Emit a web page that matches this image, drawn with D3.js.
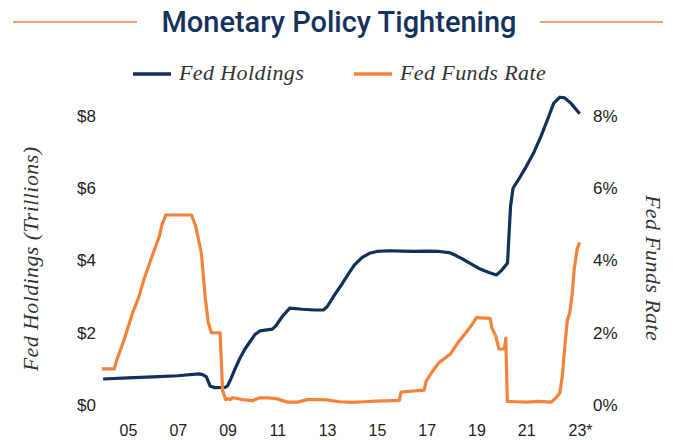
<!DOCTYPE html>
<html>
<head>
<meta charset="utf-8">
<script src="https://cdn.jsdelivr.net/npm/d3@7"></script>
<style>
  body { margin: 0; background: #fff; }
  .tick text { font-family: "Liberation Sans", Arial, sans-serif; font-size: 17px; fill: #222; }
  .x-axis .tick text { font-size: 16px; }
  .serif { font-family: "Liberation Serif", "DejaVu Serif", serif; font-style: italic; fill: #333; letter-spacing: 0.4px; }
</style>
</head>
<body>
<svg></svg>
<script>
// fed holdings (trillions $) by decimal year
const holdingsYears = [2004.0, 2005.0, 2006.0, 2007.0, 2007.85, 2008.0, 2008.15, 2008.3, 2008.5, 2008.9, 2009.0,
  2009.15, 2009.3, 2009.5, 2009.7, 2009.9, 2010.1, 2010.3, 2010.8, 2010.95, 2011.2, 2011.5, 2012.0, 2012.5, 2012.85,
  2013.0, 2013.3, 2013.6, 2013.85, 2014.1, 2014.4, 2014.7, 2015.0, 2015.5, 2016.0, 2016.5, 2017.0, 2017.5, 2017.9,
  2018.2, 2018.5, 2018.8, 2019.1, 2019.5, 2019.8, 2020.0, 2020.25, 2020.3, 2020.37, 2020.47, 2020.7, 2021.0, 2021.3,
  2021.6, 2021.9, 2022.1, 2022.35, 2022.55, 2022.8, 2023.15];
const holdingsValues = [0.72, 0.75, 0.78, 0.81, 0.86, 0.84, 0.78, 0.52, 0.48, 0.49, 0.53,
  0.75, 1.0, 1.3, 1.55, 1.75, 1.95, 2.05, 2.1, 2.2, 2.45, 2.68, 2.65, 2.63, 2.63,
  2.72, 3.05, 3.35, 3.62, 3.88, 4.08, 4.2, 4.25, 4.27, 4.26, 4.25, 4.26, 4.25, 4.22,
  4.13, 4.02, 3.9, 3.78, 3.67, 3.6, 3.72, 3.93, 4.6, 5.5, 6.0, 6.25, 6.6, 6.98,
  7.45, 7.98, 8.35, 8.52, 8.5, 8.35, 8.06];

// fed funds rate (%)
const rateYears = [2003.95, 2004.45, 2004.55, 2004.84, 2005.16, 2005.44, 2005.65, 2005.93, 2006.25, 2006.37, 2006.52,
  2007.55, 2007.72, 2007.95, 2008.1, 2008.22, 2008.35, 2008.7, 2008.8, 2008.92, 2009.0, 2009.1, 2009.2, 2009.4,
  2009.6, 2010.0, 2010.3, 2010.6, 2011.0, 2011.4, 2011.8, 2012.2, 2012.6, 2013.0, 2013.5, 2014.0, 2014.5, 2015.0,
  2015.9, 2015.97, 2016.9, 2016.98, 2017.2, 2017.48, 2017.95, 2018.22, 2018.47, 2018.8, 2019.0, 2019.55, 2019.62,
  2019.78, 2019.9, 2020.12, 2020.18, 2020.24, 2020.6, 2021.0, 2021.5, 2022.0, 2022.2, 2022.35, 2022.45, 2022.55,
  2022.65, 2022.75, 2022.85, 2022.93, 2023.05, 2023.15];
const rateValues = [1.0, 1.0, 1.25, 1.8, 2.5, 3.0, 3.5, 4.05, 4.65, 5.0, 5.26,
  5.26, 4.95, 4.2, 3.0, 2.3, 2.0, 2.0, 0.4, 0.15, 0.18, 0.15, 0.2, 0.18,
  0.15, 0.12, 0.2, 0.2, 0.17, 0.08, 0.08, 0.15, 0.15, 0.14, 0.09, 0.07, 0.09, 0.11,
  0.13, 0.36, 0.41, 0.66, 0.9, 1.16, 1.41, 1.69, 1.91, 2.2, 2.42, 2.4, 2.13,
  1.9, 1.55, 1.55, 1.85, 0.1, 0.09, 0.08, 0.1, 0.08, 0.2, 0.33, 0.8, 1.6,
  2.33, 2.56, 3.08, 3.78, 4.33, 4.5];

const xTicks = [2005, 2007, 2009, 2011, 2013, 2015, 2017, 2019, 2021, 2023];
const leftTicks = [0, 2, 4, 6, 8];
const rightTicks = [0, 2, 4, 6, 8];

const width = 673;
const height = 440;
const navy = '#13305a';
const orange = '#f5823a';

const xScale = d3.scaleLinear().domain([2005, 2023]).range([128, 576]);
const yLeft = d3.scaleLinear().domain([0, 8]).range([405, 116]);
const yRight = d3.scaleLinear().domain([0, 8]).range([405, 116]);

const svg = d3.select('svg')
              .attr('width', width)
              .attr('height', height);

// title with side rules
svg.append('line')
    .attr('x1', 13).attr('x2', 137).attr('y1', 22).attr('y2', 22)
    .attr('stroke', orange).attr('stroke-width', 1.6);
svg.append('line')
    .attr('x1', 540).attr('x2', 663).attr('y1', 22).attr('y2', 22)
    .attr('stroke', orange).attr('stroke-width', 1.6);
svg.append('text')
    .text('Monetary Policy Tightening')
    .attr('x', 339)
    .attr('y', 32)
    .style('text-anchor', 'middle')
    .style('font-family', 'Roboto, sans-serif')
    .style('font-weight', 500)
    .style('font-size', '29px')
    .style('fill', '#15325c');

// legend
const legend = [
  { name: 'Fed Holdings', color: navy, x: 133 },
  { name: 'Fed Funds Rate', color: orange, x: 354 }
];
legend.forEach((d) => {
  svg.append('line')
      .attr('x1', d.x).attr('x2', d.x + 38).attr('y1', 74).attr('y2', 74)
      .attr('stroke', d.color).attr('stroke-width', 3.5);
  svg.append('text')
      .attr('class', 'serif')
      .text(d.name)
      .attr('x', d.x + 46)
      .attr('y', 80)
      .style('font-size', '22px');
});

// axes
const xAxis = d3.axisBottom(xScale)
                .tickValues(xTicks)
                .tickSize(0)
                .tickPadding(0)
                .tickFormat((d) => String(d).slice(2) + (d === 2023 ? '*' : ''));
const gx = svg.append('g')
    .attr('class', 'x-axis')
    .attr('transform', 'translate(0, 425)')
    .call(xAxis);
gx.select('.domain').remove();
gx.selectAll('.tick text').filter((d) => d === 2023).attr('dx', '4');

const leftAxis = d3.axisLeft(yLeft)
                   .tickValues(leftTicks)
                   .tickSize(0)
                   .tickPadding(0)
                   .tickFormat((d) => '$' + d);
svg.append('g')
    .attr('transform', 'translate(96, 0)')
    .call(leftAxis)
    .select('.domain').remove();

const rightAxis = d3.axisRight(yRight)
                    .tickValues(rightTicks)
                    .tickSize(0)
                    .tickPadding(0)
                    .tickFormat((d) => d + '%');
svg.append('g')
    .attr('transform', 'translate(593, 0)')
    .call(rightAxis)
    .select('.domain').remove();

// axis titles
svg.append('text')
    .attr('class', 'serif')
    .text('Fed Holdings (Trillions)')
    .attr('transform', 'translate(30, 259) rotate(-90)')
    .attr('dy', '0.35em')
    .style('text-anchor', 'middle')
    .style('font-size', '22px');

svg.append('text')
    .attr('class', 'serif')
    .text('Fed Funds Rate')
    .attr('transform', 'translate(654, 268) rotate(90)')
    .attr('dy', '0.35em')
    .style('text-anchor', 'middle')
    .style('font-size', '22px');

// lines
const holdings = holdingsYears.map((y, i) => ({ year: y, value: holdingsValues[i] }));
const rates = rateYears.map((y, i) => ({ year: y, value: rateValues[i] }));

svg.append('path')
    .datum(holdings)
    .attr('fill', 'none')
    .attr('stroke', navy)
    .attr('stroke-width', 3.2)
    .attr('stroke-linejoin', 'round')
    .attr('d', d3.line().x((d) => xScale(d.year)).y((d) => yLeft(d.value)));

svg.append('path')
    .datum(rates)
    .attr('fill', 'none')
    .attr('stroke', orange)
    .attr('stroke-width', 3.2)
    .attr('stroke-linejoin', 'round')
    .attr('d', d3.line().x((d) => xScale(d.year)).y((d) => yRight(d.value)));
</script>
</body>
</html>
